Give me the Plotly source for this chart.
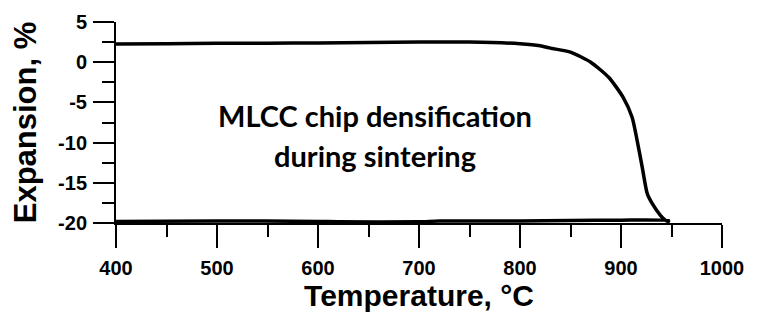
import plotly.graph_objects as go

# Heating segment (upper curve, then shrinkage)
temp_heat = [400, 450, 500, 550, 600, 650, 700, 750, 800, 820, 830, 850, 870, 888, 902, 911, 916, 921, 926, 931, 939, 944, 947]
exp_heat = [2.25, 2.3, 2.35, 2.35, 2.4, 2.45, 2.5, 2.5, 2.3, 2.05, 1.75, 1.25, 0.0, -1.9, -4.35, -6.85, -9.75, -13.05, -16.35, -17.6, -19.05, -19.65, -19.8]
# Cooling / return segment (bottom line)
temp_cool = [947, 900, 850, 800, 720, 700, 620, 600, 500, 400]
exp_cool = [-19.7, -19.65, -19.7, -19.75, -19.75, -19.85, -19.85, -19.8, -19.75, -19.8]

x_ticks = [400, 500, 600, 700, 800, 900, 1000]
y_ticks = [5, 0, -5, -10, -15, -20]
y_tick_labels = ["5", "0", "-5", "-10", "-15", "-20"]

fig = go.Figure()
fig.add_trace(go.Scatter(x=temp_heat + temp_cool, y=exp_heat + exp_cool, mode="lines",
                         line=dict(color="black", width=3.5, shape="spline", smoothing=0.6), showlegend=False))

tickfont = dict(family="Liberation Sans, Arial", size=20, color="black", weight="bold")
xtitlefont = dict(family="Liberation Sans, Arial", size=30, color="black", weight="bold")
ytitlefont = dict(family="Liberation Sans, Arial", size=31, color="black", weight="bold")

fig.update_xaxes(range=[400, 1000], tickvals=x_ticks, showline=True, linecolor="black", linewidth=2,
                 ticks="outside", ticklen=23, tickwidth=2, tickcolor="black", tickfont=tickfont,
                 ticklabelstandoff=3,
                 minor=dict(dtick=50, ticks="outside", ticklen=12, tickwidth=2, tickcolor="black", showgrid=False),
                 showgrid=False, zeroline=False, automargin=False,
                 title=dict(text="Temperature, °C", font=xtitlefont, standoff=6))
fig.update_yaxes(range=[-20, 5], tickvals=y_ticks, ticktext=y_tick_labels,
                 showline=True, linecolor="black", linewidth=2,
                 ticks="outside", ticklen=21, tickwidth=2, tickcolor="black", tickfont=tickfont,
                 ticklabelstandoff=2,
                 minor=dict(dtick=2.5, ticks="outside", ticklen=12, tickwidth=2, tickcolor="black", showgrid=False),
                 showgrid=False, zeroline=False, automargin=False,
                 title=dict(text="Expansion, %", font=ytitlefont, standoff=12))

label_font = dict(family="Lato, Open Sans", size=29, color="black")
fig.add_annotation(x=656, y=-6.6, showarrow=False, text="<b>MLCC chip densification</b>", font=label_font)
fig.add_annotation(x=656, y=-11.6, showarrow=False, text="<b>during sintering</b>", font=label_font)

fig.update_layout(width=757, height=314, margin=dict(l=108, r=43, t=14, b=99),
                  plot_bgcolor="white", paper_bgcolor="white")
fig.write_html("out.html")
